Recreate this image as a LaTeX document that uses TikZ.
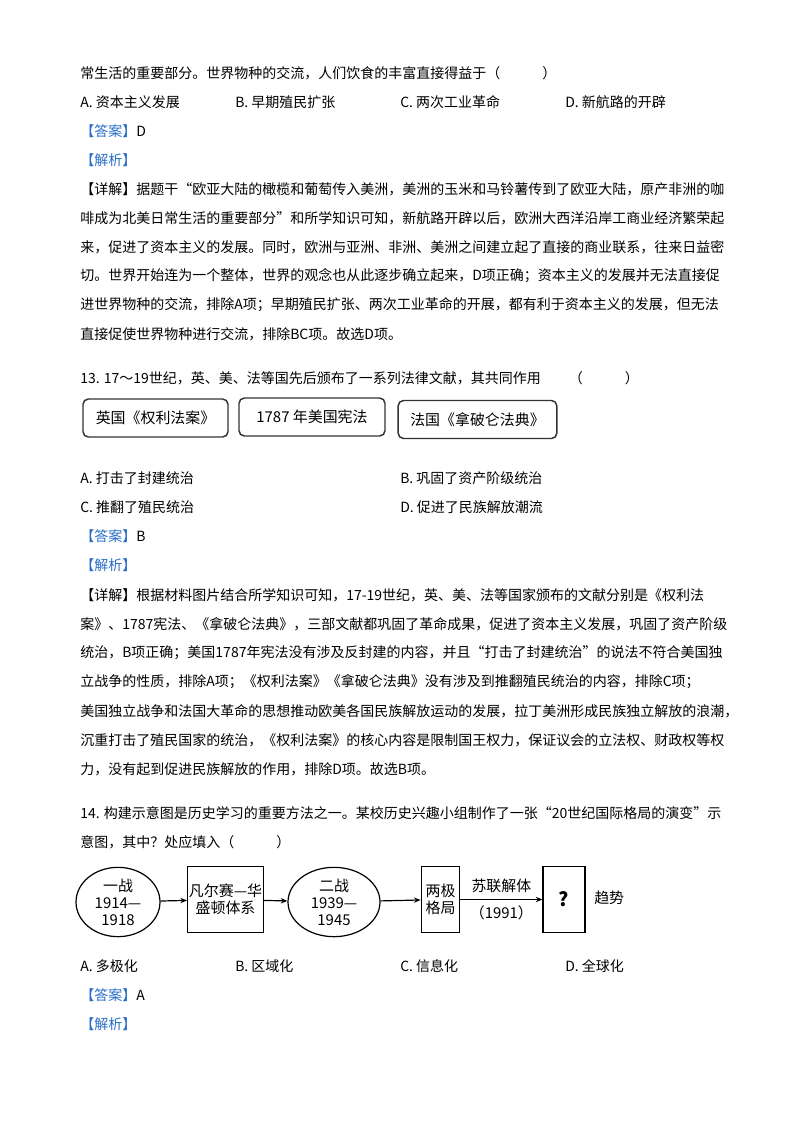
\documentclass[tikz,border=0pt]{standalone}
\usepackage{fontspec}
\setmainfont{Noto Sans CJK SC}
\newfontfamily\cjk{Noto Sans CJK SC}
\usetikzlibrary{shapes.geometric, arrows.meta}
\definecolor{ansblue}{RGB}{40,110,200}
\newcommand{\bodyfont}{\cjk\fontsize{10.5pt}{13pt}\selectfont}
\newcommand{\figfont}{\cjk\fontsize{11.2pt}{12.8pt}\selectfont}
\tikzset{
	txt/.style={anchor=west, inner sep=0pt, font=\bodyfont},
	ans/.style={txt, text=ansblue},
	lawbox/.style={draw=black!80, line width=1.1pt, rounded corners=4pt, font=\figfont, minimum height=28.5pt},
	era/.style={draw, ellipse, line width=0.9pt, inner sep=0pt, align=center, font=\figfont, minimum width=63pt, minimum height=52pt},
	stage/.style={draw, line width=0.9pt, inner sep=1pt, align=center, font=\figfont, minimum height=49pt},
	flow/.style={-{Stealth[length=5pt,width=4pt]}, line width=0.9pt}
}
\begin{document}
\begin{tikzpicture}[x=0.75pt, y=-0.75pt]
	\useasboundingbox (0,0) rectangle (800,1132);
	\fill[white] (0,0) rectangle (800,1132);

	% question 12 (end)
	\node[txt] (q12a) at (80,73) {常生活的重要部分。世界物种的交流，人们饮食的丰富直接得益于（\hspace{3em}）};
	\node[txt] (o12a) at (80,102) {A. 资本主义发展};
	\node[txt] (o12b) at (235,102) {B. 早期殖民扩张};
	\node[txt] (o12c) at (400,102) {C. 两次工业革命};
	\node[txt] (o12d) at (565,102) {D. 新航路的开辟};
	\node[ans] (a12) at (80,131) {【答案】\textcolor{black}{D}};
	\node[ans] (j12) at (80,160) {【解析】};
	\node[txt] (d12a) at (80,189) {【详解】据题干“欧亚大陆的橄榄和葡萄传入美洲，美洲的玉米和马铃薯传到了欧亚大陆，原产非洲的咖};
	\node[txt] (d12b) at (80,218) {啡成为北美日常生活的重要部分”和所学知识可知，新航路开辟以后，欧洲大西洋沿岸工商业经济繁荣起};
	\node[txt] (d12c) at (80,247) {来，促进了资本主义的发展。同时，欧洲与亚洲、非洲、美洲之间建立起了直接的商业联系，往来日益密};
	\node[txt] (d12d) at (80,276) {切。世界开始连为一个整体，世界的观念也从此逐步确立起来，D项正确；资本主义的发展并无法直接促};
	\node[txt] (d12e) at (80,305) {进世界物种的交流，排除A项；早期殖民扩张、两次工业革命的开展，都有利于资本主义的发展，但无法};
	\node[txt] (d12f) at (80,334) {直接促使世界物种进行交流，排除BC项。故选D项。};

	% question 13
	\node[txt] (q13) at (80,378) {13. 17～19世纪，英、美、法等国先后颁布了一系列法律文献，其共同作用\hspace{2em}（\hspace{3em}）};
	\node[lawbox, minimum width=108.75pt] (law1) at (155.5,418) {英国《权利法案》};
	\node[lawbox, minimum width=109.5pt] (law2) at (312,417) {1787 年美国宪法};
	\node[lawbox, minimum width=119pt] (law3) at (477.5,419.5) {法国《拿破仑法典》};
	\node[txt] (o13a) at (80,478) {A. 打击了封建统治};
	\node[txt] (o13b) at (400,478) {B. 巩固了资产阶级统治};
	\node[txt] (o13c) at (80,507) {C. 推翻了殖民统治};
	\node[txt] (o13d) at (400,507) {D. 促进了民族解放潮流};
	\node[ans] (a13) at (80,536) {【答案】\textcolor{black}{B}};
	\node[ans] (j13) at (80,565) {【解析】};
	\node[txt] (d13a) at (80,595) {【详解】根据材料图片结合所学知识可知，17-19世纪，英、美、法等国家颁布的文献分别是《权利法};
	\node[txt] (d13b) at (80,624) {案》、1787宪法、《拿破仑法典》，三部文献都巩固了革命成果，促进了资本主义发展，巩固了资产阶级};
	\node[txt] (d13c) at (80,653) {统治，B项正确；美国1787年宪法没有涉及反封建的内容，并且“打击了封建统治”的说法不符合美国独};
	\node[txt] (d13d) at (80,682) {立战争的性质，排除A项；《权利法案》《拿破仑法典》没有涉及到推翻殖民统治的内容，排除C项；};
	\node[txt] (d13e) at (80,711) {美国独立战争和法国大革命的思想推动欧美各国民族解放运动的发展，拉丁美洲形成民族独立解放的浪潮，};
	\node[txt] (d13f) at (80,740) {沉重打击了殖民国家的统治，《权利法案》的核心内容是限制国王权力，保证议会的立法权、财政权等权};
	\node[txt] (d13g) at (80,769) {力，没有起到促进民族解放的作用，排除D项。故选B项。};

	% question 14
	\node[txt] (q14a) at (80,813) {14. 构建示意图是历史学习的重要方法之一。某校历史兴趣小组制作了一张“20世纪国际格局的演变”示};
	\node[txt] (q14b) at (80,842) {意图，其中？处应填入（\hspace{3em}）};
	\node[era] (ww1) at (118,902) {一战\\1914—\\1918};
	\node[stage, minimum width=55pt] (vw) at (225.5,899.5) {凡尔赛—华\\盛顿体系};
	\node[era, minimum width=69pt] (ww2) at (334,902) {二战\\1939—\\1945};
	\node[stage, minimum width=29pt] (bipolar) at (440.5,899.5) {两极\\格局};
	\node[stage, minimum width=31.5pt, font=\figfont\bfseries\Large] (unknown) at (564,899.5) {?};
	\node[anchor=west, inner sep=0pt, font=\figfont] (trend) at (594,898) {趋势};
	\draw[flow] (ww1) -- (vw);
	\draw[flow] (vw) -- (ww2);
	\draw[flow] (ww2) -- (bipolar);
	\draw[flow] (bipolar.east |- unknown) -- node[above=1pt, font=\figfont] (ussr) {苏联解体} node[below=1pt, font=\figfont] (y1991) {（1991）} (unknown);
	\node[txt] (o14a) at (80,966) {A. 多极化};
	\node[txt] (o14b) at (235,966) {B. 区域化};
	\node[txt] (o14c) at (400,966) {C. 信息化};
	\node[txt] (o14d) at (565,966) {D. 全球化};
	\node[ans] (a14) at (80,995) {【答案】\textcolor{black}{A}};
	\node[ans] (j14) at (80,1024) {【解析】};
\end{tikzpicture}
\end{document}
